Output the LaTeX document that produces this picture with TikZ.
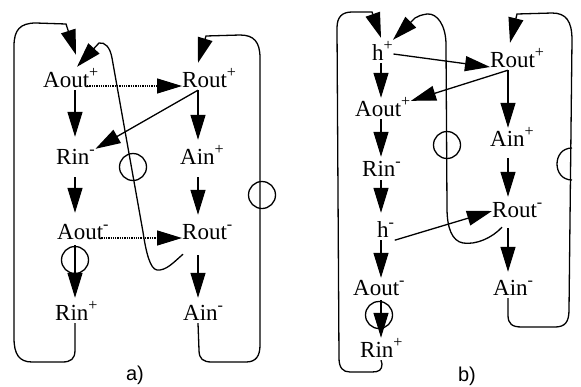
\documentclass[tikz,border=0pt]{standalone}
\usepackage{fontspec}
\setmainfont{Liberation Serif}
\setsansfont{Liberation Sans}
\usetikzlibrary{arrows.meta,calc}
\begin{document}
\begin{tikzpicture}[x=1pt,y=-1pt,
  lbl/.style={anchor=base west, inner sep=0pt, text height=15pt, text depth=3pt, font=\fontsize{23}{27}\selectfont},
  arr/.style={line width=1.3pt, -{Triangle[length=25pt,width=15pt]}},
  dots/.style={arr, densely dotted},
  bubble/.style={draw, circle, line width=1.3pt, minimum size=27pt, inner sep=0pt},
  plain/.style={line width=1.3pt},
  panellabel/.style={font=\sffamily\fontsize{20}{24}\selectfont, inner sep=0pt}]
\useasboundingbox (0,0) rectangle (581,386);
% columns
\coordinate (colA) at (75,0);
\coordinate (colB) at (198,0);
\coordinate (colC) at (381,0);
\coordinate (colD) at (508,0);
% panel a nodes
\node[lbl] (aoutp) at (43,87) {Aout\textsuperscript{+}};
\node[lbl] (routp) at (182,87) {Rout\textsuperscript{+}};
\node[lbl] (rinm) at (56,164) {Rin\textsuperscript{-}};
\node[lbl] (ainp) at (180,164) {Ain\textsuperscript{+}};
\node[lbl] (aoutm) at (57,239) {Aout\textsuperscript{-}};
\node[lbl] (routm) at (182,239) {Rout\textsuperscript{-}};
\node[lbl] (rinp) at (55,320) {Rin\textsuperscript{+}};
\node[lbl] (ainm) at (183,320) {Ain\textsuperscript{-}};
\node[panellabel] (la) at (135,375) {a)};
% panel b nodes
\node[lbl] (hp) at (372,60) {h\textsuperscript{+}};
\node[lbl] (routpb) at (490,67) {Rout\textsuperscript{+}};
\node[lbl] (aoutpb) at (355,116) {Aout\textsuperscript{+}};
\node[lbl] (ainpb) at (490,146) {Ain\textsuperscript{+}};
\node[lbl] (rinmb) at (362,176) {Rin\textsuperscript{-}};
\node[lbl] (routmb) at (492,217) {Rout\textsuperscript{-}};
\node[lbl] (hm) at (377,237) {h\textsuperscript{-}};
\node[lbl] (aoutmb) at (353,295) {Aout\textsuperscript{-}};
\node[lbl] (ainmb) at (493,295) {Ain\textsuperscript{-}};
\node[lbl] (rinpb) at (360,357) {Rin\textsuperscript{+}};
\node[panellabel] (lb) at (467,376) {b)};
% bubbles
\node[bubble] (ba1) at (133,167) {};
\node[bubble] (ba2) at (262,195) {};
\node[bubble] (ba3) at (75,260) {};
\node[bubble] (bb1) at (447,145) {};
\node[bubble] (bb2) at (379,315) {};
\draw[plain] (572,148) .. controls (552,148) and (552,180) .. (572,180);
% panel a vertical arrows
\draw[arr, shorten >=12pt] (aoutp.south -| colA) -- (rinm.north -| colA);
\draw[arr, shorten <=10pt, shorten >=11pt] (rinm.south -| colA) -- (aoutm.north -| colA);
\draw[arr, shorten <=3pt, shorten >=7pt] (aoutm.south -| colA) -- (rinp.north -| colA);
\draw[arr, shorten >=9pt] (routp.south -| colB) -- (ainp.north -| colB);
\draw[arr, shorten <=10pt, shorten >=9pt] (ainp.south -| colB) -- (routm.north -| colB);
\draw[arr, shorten <=13pt, shorten >=7pt] (routm.south -| colB) -- (ainm.north -| colB);
% panel a horizontal / diagonal
\draw[dots] ($(aoutp.base west)+(44,-1)$) -- ($(routp.base west)+(0,-1)$);
\draw[dots] ($(aoutm.base west)+(42,-1)$) -- ($(routm.base west)+(0,-1)$);
\draw[arr] (routp.south -| colB) -- (rinm.north east);
% panel a loops
\draw[arr] (rinp.south -| colA) -- (75,350) .. controls (75,359) and (71,362) .. (62,362)
  -- (32,362) .. controls (19,362) and (14,354) .. (14,338) -- (14,46)
  .. controls (14,30) and (20,23) .. (36,23) -- (66,24) -- ($(aoutp.north -| colA)+(1,-17)$);
\draw[arr] ($(routm.south west)+(1,12)$) .. controls (174,262) and (166,271) .. (157,270)
  .. controls (150,269) and (146,252) .. (143,232) -- (112,58)
  .. controls (110,47) and (105,42) .. (99,43) -- ($(aoutp.north -| colA)+(2,-5)$);
\draw[arr] (ainm.south -| colB) -- (199,350) .. controls (199,359) and (203,362) .. (212,362)
  -- (246,362) .. controls (256,362) and (260,356) .. (260,345) -- (260,58)
  .. controls (260,42) and (254,35) .. (240,35) -- (206,36) -- ($(routp.north -| colB)+(0,-9)$);
% panel b vertical arrows
\draw[arr, shorten >=3pt] (hp.south -| colC) -- (aoutpb.north -| colC);
\draw[arr, shorten >=4pt] (aoutpb.south -| colC) -- (rinmb.north -| colC);
\draw[arr, shorten <=1pt, shorten >=9pt] (rinmb.south -| colC) -- (hm.north -| colC);
\draw[arr, shorten >=2pt] (hm.south -| colC) -- (aoutmb.north -| colC);
\draw[arr, shorten <=2pt, shorten >=4pt] (aoutmb.south -| colC) -- (rinpb.north -| colC);
\draw[arr, shorten >=3pt] (routpb.south -| colD) -- (ainpb.north -| colD);
\draw[arr, shorten <=9pt, shorten >=5pt] (ainpb.south -| colD) -- (routmb.north -| colD);
\draw[arr, shorten <=8pt, shorten >=8pt] (routmb.south -| colD) -- (ainmb.north -| colD);
% panel b diagonals
\draw[arr] (hp.east) -- (routpb.base west);
\draw[arr] (routpb.south -| colD) -- (aoutpb.north east);
\draw[arr] (hm.south east) -- (routmb.west);
% panel b loops
\draw[arr] (rinpb.south -| colC) -- (382,364) .. controls (382,370) and (379,372) .. (372,372)
  -- (350,372) .. controls (343,372) and (339,368) .. (339,358) -- (337,28)
  .. controls (337,17) and (342,12) .. (352,12) -- (372,12) -- ($(hp.north -| colC)+(0,-7)$);
\draw[arr] ($(routmb.south west)+(10,7)$) .. controls (492,238) and (476,245) .. (463,243)
  .. controls (452,241) and (447,228) .. (447,208) -- (446,45)
  .. controls (446,25) and (437,13) .. (427,14) .. controls (421,15) and (418,16) .. (415,18)
  -- ($(hp.north -| colC)+(12,-5)$);
\draw[arr] (ainmb.south -| colD) -- (508,315) .. controls (508,324) and (512,327) .. (522,327)
  -- (555,327) .. controls (565,327) and (569,322) .. (569,310) -- (572,40)
  .. controls (572,21) and (566,13) .. (552,13) -- (517,14) -- ($(routpb.north -| colD)+(2,-9)$);
\end{tikzpicture}
\end{document}
